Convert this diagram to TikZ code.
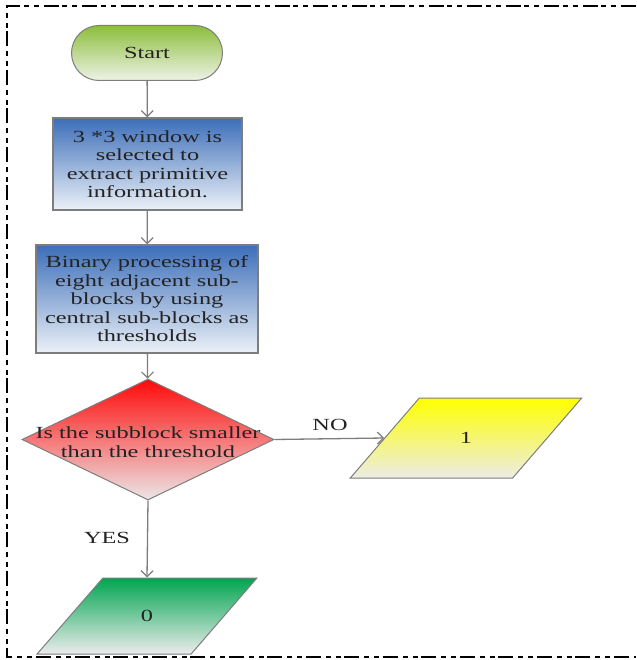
\documentclass[tikz,border=0pt]{standalone}
\usepackage{fontspec}
\setmainfont[FakeStretch=1.43]{Liberation Serif}
\usetikzlibrary{shapes.geometric,arrows.meta}
\definecolor{edge}{RGB}{125,125,125}
\definecolor{txt}{RGB}{35,35,35}
\definecolor{startg}{RGB}{140,190,60}
\definecolor{startb}{RGB}{238,242,230}
\definecolor{bluet}{RGB}{60,110,185}
\definecolor{blueb}{RGB}{236,241,248}
\definecolor{redt}{RGB}{255,10,10}
\definecolor{redb}{RGB}{236,230,230}
\definecolor{yelt}{RGB}{255,255,0}
\definecolor{yelb}{RGB}{236,236,230}
\definecolor{grnt}{RGB}{0,165,80}
\definecolor{grnb}{RGB}{236,236,236}
\tikzset{
  basefont/.style={font=\fontsize{17}{18.5}\selectfont, text=txt},
  startbox/.style={draw=edge, line width=1pt, rounded corners=27.5pt, minimum width=151pt, minimum height=55pt, top color=startg, bottom color=startb, basefont},
  procbox/.style={draw=edge, line width=1.2pt, top color=bluet, bottom color=blueb, align=center, basefont, inner sep=0pt},
  decbox/.style={draw=edge, line width=1pt, diamond, minimum width=252pt, minimum height=121pt, inner sep=0pt, top color=redt, bottom color=redb},
  iobox/.style={draw=edge, line width=1pt, trapezium, trapezium stretches=true, inner sep=0pt, basefont},
  conn/.style={draw=edge, line width=1.3pt, -{Straight Barb[length=6pt,width=12pt,line width=1.2pt]}},
  lbl/.style={basefont},
  border/.style={line width=2.2pt, black, dash pattern=on 15pt off 5pt on 5pt off 5pt on 5pt off 3.5pt}
}
\begin{document}
\begin{tikzpicture}[x=1pt,y=-1pt]
\useasboundingbox (0,0) rectangle (636,660);
\draw[border] (636,6) -- (7,6) -- (7,657) -- (636,657);

\node[startbox] (start) at (147,53) {Start};
\node[procbox, minimum width=189pt, minimum height=92pt] (win) at (147.5,164) {3 *3 window is\\selected to\\extract primitive\\information.};
\node[procbox, minimum width=222pt, minimum height=108pt] (bin) at (147,299) {Binary processing of\\eight adjacent sub-\\blocks by using\\central sub-blocks as\\thresholds};
\node[decbox] (dec) at (148,439.5) {};
\node[lbl, align=center] (dect) at (148,442) {Is the subblock smaller\\than the threshold};
\node[iobox, trapezium left angle=51.3, trapezium right angle=128.7, minimum width=232pt, minimum height=80pt, top color=yelt, bottom color=yelb] (one) at (466,438) {1};
\node[iobox, trapezium left angle=51.7, trapezium right angle=128.3, minimum width=220pt, minimum height=76pt, top color=grnt, bottom color=grnb] (zero) at (147,616) {0};

\draw[conn] (start) -- (win);
\draw[conn] (win) -- (bin);
\draw[conn] (bin) -- (dec);
\draw[conn] (dec.east) -- (one.west);
\draw[conn] (dec.south) -- (zero.north);
\node[lbl] (no) at (330,425) {NO};
\node[lbl] (yes) at (107,538) {YES};
\end{tikzpicture}
\end{document}
